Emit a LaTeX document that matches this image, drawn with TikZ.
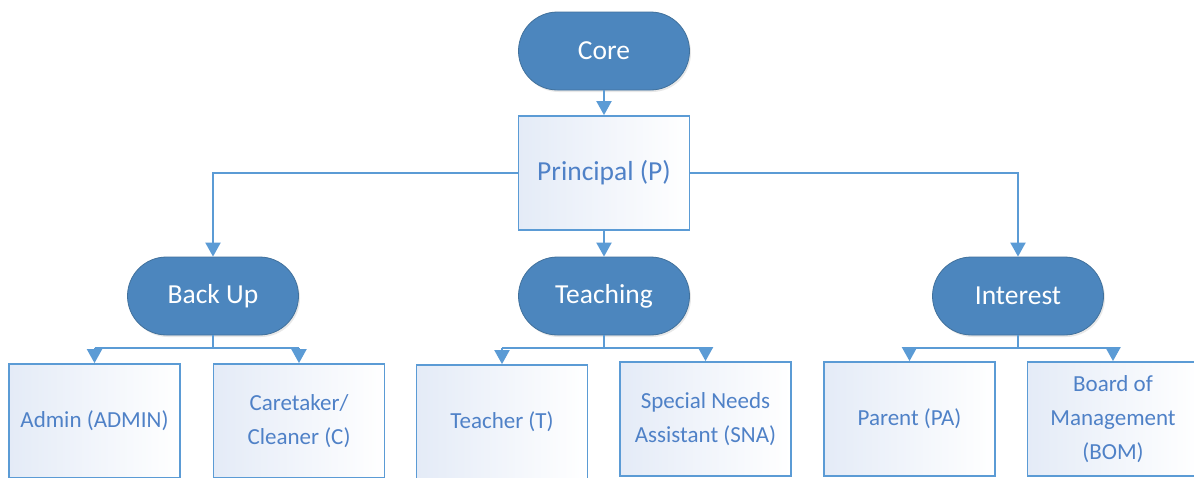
\documentclass[tikz,border=0pt]{standalone}
\usepackage{fontspec}
\setmainfont{Carlito}
\usetikzlibrary{arrows.meta,shadows}
\definecolor{stfill}{RGB}{76,134,190}
\definecolor{stdraw}{RGB}{65,113,156}
\definecolor{ln}{RGB}{91,155,213}
\definecolor{txt}{RGB}{79,129,199}
\definecolor{bx}{RGB}{228,235,247}
\begin{document}
\begin{tikzpicture}[x=1pt,y=-1pt,
  stad/.style={fill=stfill, draw=stdraw, line width=0.8pt, rounded corners=39pt,
    minimum width=171pt, minimum height=78pt, inner sep=0pt, text=white,
    font=\fontsize{27.5}{32}\selectfont,
    drop shadow={opacity=0.18, shadow xshift=1.5pt, shadow yshift=-2pt}},
  box/.style={draw=ln, line width=1.8pt, left color=bx, right color=white,
    minimum width=171pt, minimum height=114pt, inner sep=2pt, text=txt, align=center,
    font=\fontsize{23}{34}\selectfont},
  conn/.style={draw=ln, line width=2pt},
  bus/.style={draw=ln, line width=2.8pt},
  arr/.style={draw=ln, line width=2pt, -{Triangle[width=15pt,length=14pt]}}]
\clip (0,0) rectangle (1194,477);
\fill[white] (0,0) rectangle (1194,477);
% top
\node[stad] (core) at (604,51) {Core};
\node[box, font=\fontsize{27.5}{32}\selectfont] (p) at (604,173) {Principal (P)};
% level 2
\node[stad] (bu) at (213,296) {Back Up};
\node[stad] (te) at (604,296) {Teaching};
\node[stad] (in) at (1018,296) {Interest};
% level 3
\node[box] (admin) at (94.5,421) {Admin (ADMIN)};
\node[box] (care) at (299,421) {Caretaker/\\Cleaner (C)};
\node[box] (teach) at (502,422) {Teacher (T)};
\node[box] (sna) at (705.5,419) {Special Needs\\Assistant (SNA)};
\node[box] (par) at (909.5,419) {Parent (PA)};
\node[box] (bom) at (1113,419) {Board of\\Management\\(BOM)};
% bus coordinates
\coordinate (a1) at (admin.north |- 0,348);
\coordinate (a2) at (care.north |- 0,348);
\coordinate (b1) at (teach.north |- 0,348);
\coordinate (b2) at (sna.north |- 0,348);
\coordinate (c1) at (par.north |- 0,348);
\coordinate (c2) at (bom.north |- 0,348);
% connectors
\draw[arr] (core.south) -- (p.north);
\draw[arr] (p.west) -| (bu.north);
\draw[arr] (p.south) -- (te.north);
\draw[arr] (p.east) -| (in.north);
\draw[conn] (bu.south) -- (bu.south |- a1);
\draw[conn] (te.south) -- (te.south |- b1);
\draw[conn] (in.south) -- (in.south |- c1);
\draw[bus] (a1) -- (a2);
\draw[bus] (b1) -- (b2);
\draw[bus] (c1) -- (c2);
\draw[arr] (a1) -- (admin.north);
\draw[arr] (a2) -- (care.north);
\draw[arr] (b1) -- (teach.north);
\draw[arr] (b2) -- (sna.north);
\draw[arr] (c1) -- (par.north);
\draw[arr] (c2) -- (bom.north);
\end{tikzpicture}
\end{document}
